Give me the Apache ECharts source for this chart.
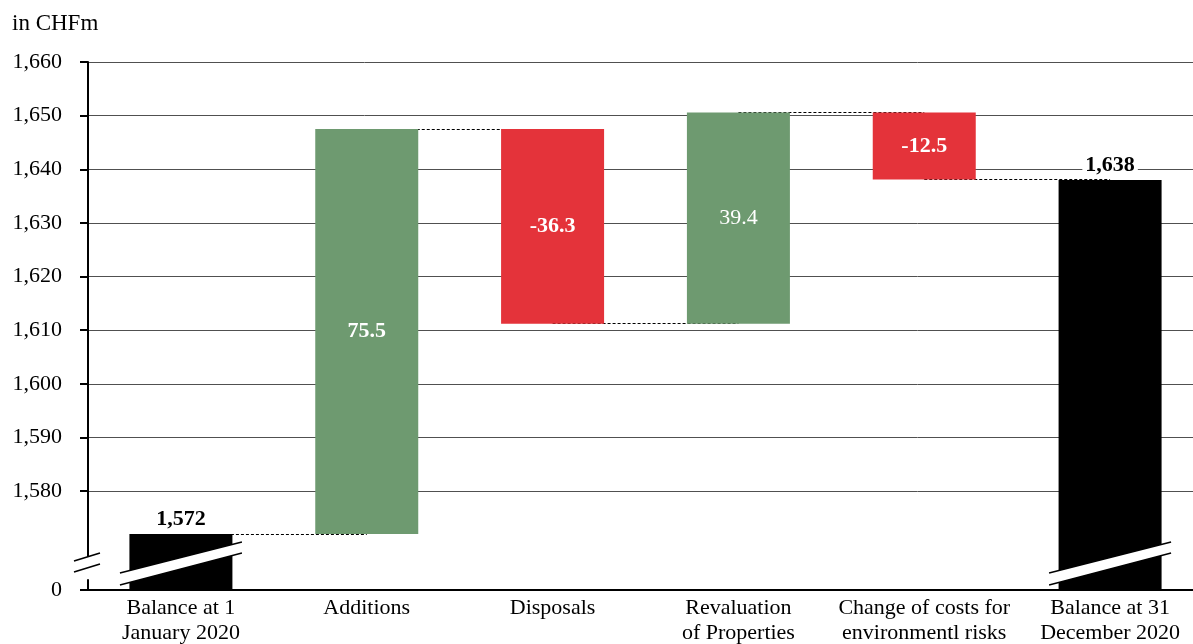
<!DOCTYPE html>
<html><head><meta charset="utf-8">
<script src="https://cdn.jsdelivr.net/npm/echarts@6/dist/echarts.min.js"></script>
<style>html,body{margin:0;padding:0;background:#fff}#c{width:1193px;height:644px}</style>
</head><body><div id="c"></div>
<script>
// ---- data ----
const unitLabel = 'in CHFm';
const categories = ['Balance at 1\nJanuary 2020', 'Additions', 'Disposals', 'Revaluation\nof Properties', 'Change of costs for\nenvironmentl risks', 'Balance at 31\nDecember 2020'];
const values = [1572, 75.5, -36.3, 39.4, -12.5, 1638];
const kinds = ['total', 'delta', 'delta', 'delta', 'delta', 'total'];
const valueLabels = ['1,572', '75.5', '-36.3', '39.4', '-12.5', '1,638'];
const boldLabel = [true, true, true, false, true, true];
const yTicks = [0, 1580, 1590, 1600, 1610, 1620, 1630, 1640, 1650, 1660];
const yTickLabels = ['0', '1,580', '1,590', '1,600', '1,610', '1,620', '1,630', '1,640', '1,650', '1,660'];
const breakStart = 2, breakEnd = 1567, breakGap = 3.46;

// ---- build waterfall ----
const COL_TOTAL = '#000000', COL_POS = '#6E9A70', COL_NEG = '#E4333A';
const FONT = '"Liberation Serif", "Times New Roman", serif';
let running = 0;
const bases = [], heights = [], levels = [];
values.forEach((v, i) => {
  if (kinds[i] === 'total') { bases.push(0); heights.push(v); running = v; }
  else if (v >= 0) { bases.push(running); heights.push(v); running += v; }
  else { bases.push(running + v); heights.push(-v); running += v; }
  levels.push(running);
});
const barData = heights.map((h, i) => {
  const total = kinds[i] === 'total';
  return {
    value: h,
    itemStyle: { color: total ? COL_TOTAL : (values[i] >= 0 ? COL_POS : COL_NEG) },
    label: total ? {
      position: 'top', distance: 4, color: '#000', fontWeight: 'bold',
      backgroundColor: '#fff', padding: [0, 3]
    } : {
      position: 'inside', color: '#fff', fontWeight: boldLabel[i] ? 'bold' : 'normal'
    }
  };
});
const connectors = [];
for (let i = 0; i < values.length - 1; i++) {
  connectors.push([{ coord: [i, levels[i]] }, { coord: [i + 1, levels[i]] }]);
}

const chart = echarts.init(document.getElementById('c'), null, { renderer: 'canvas' });
chart.setOption({
  animation: false,
  backgroundColor: '#fff',
  textStyle: { fontFamily: FONT },
  title: { text: unitLabel, left: 7, top: 7, textStyle: { fontFamily: FONT, fontSize: 23, fontWeight: 'normal', color: '#000' } },
  grid: { left: 88, top: 62, bottom: 54, width: 1115, containLabel: false, outerBoundsMode: 'none' },
  xAxis: {
    type: 'category', data: categories,
    axisTick: { show: false },
    axisLine: { lineStyle: { color: '#000', width: 2 } },
    axisLabel: { color: '#000', fontSize: 22, fontFamily: FONT, lineHeight: 25, margin: 6, interval: 0 },
    z: 1
  },
  yAxis: {
    type: 'value', min: 0, max: 1660,
    breaks: [{ start: breakStart, end: breakEnd, gap: breakGap }],
    breakArea: { show: false },
    axisLine: { show: true, lineStyle: { color: '#000', width: 2 } },
    axisTick: { show: true, length: 8, customValues: yTicks, lineStyle: { color: '#000', width: 2 } },
    axisLabel: {
      customValues: yTicks, color: '#000', fontSize: 22, fontFamily: FONT, margin: 26,
      formatter: v => { const k = yTicks.indexOf(v); return k >= 0 ? yTickLabels[k] : ''; }
    },
    splitLine: { show: true, lineStyle: { color: '#505050', width: 1 } }
  },
  series: [
    {
      type: 'bar', stack: 'wf', data: bases, barWidth: 103,
      itemStyle: { color: 'transparent' }, silent: true, z: 2,
      markLine: {
        silent: true, symbol: 'none', z: 1,
        label: { show: false },
        lineStyle: { color: '#000', type: [3, 2], width: 1 },
        data: connectors
      }
    },
    {
      type: 'bar', stack: 'wf', barWidth: 103, z: 3,
      data: barData,
      label: {
        show: true, fontSize: 22, fontFamily: FONT,
        formatter: p => valueLabels[p.dataIndex]
      }
    },
    {
      type: 'custom', z: 5, silent: true,
      data: kinds.map((k, i) => k === 'total' ? [i, 0] : null).filter(d => d),
      renderItem: (params, api) => {
        const p = api.coord([api.value(0), 0]);
        const cx = p[0], by = p[1];
        const ls = { stroke: '#000', lineWidth: 1.5 };
        const children = [
          { type: 'polygon', shape: { points: [[cx - 61, by - 5], [cx + 61, by - 37], [cx + 61, by - 48], [cx - 61, by - 17]] }, style: { fill: '#fff' } },
          { type: 'line', shape: { x1: cx - 61, y1: by - 17, x2: cx + 61, y2: by - 48 }, style: ls },
          { type: 'line', shape: { x1: cx - 61, y1: by - 5, x2: cx + 61, y2: by - 37 }, style: ls }
        ];
        if (params.dataIndex === 0) {
          const ax = params.coordSys.x;
          children.push(
            { type: 'polygon', shape: { points: [[ax - 14, by - 18], [ax + 12, by - 26], [ax + 12, by - 37], [ax - 14, by - 29]] }, style: { fill: '#fff' } },
            { type: 'line', shape: { x1: ax - 14, y1: by - 29, x2: ax + 12, y2: by - 37 }, style: ls },
            { type: 'line', shape: { x1: ax - 14, y1: by - 18, x2: ax + 12, y2: by - 26 }, style: ls }
          );
        }
        return { type: 'group', children };
      }
    }
  ]
});
</script></body></html>
